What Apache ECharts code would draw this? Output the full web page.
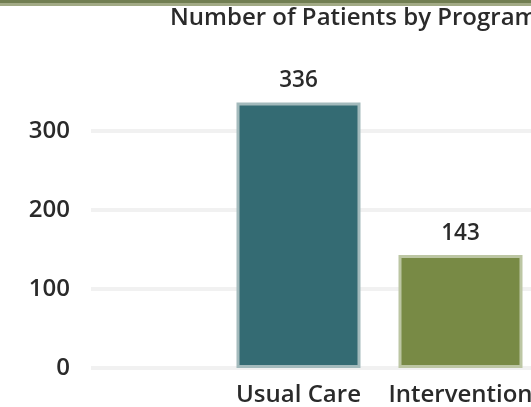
<!DOCTYPE html>
<html>
<head>
<meta charset="utf-8">
<script src="https://cdn.jsdelivr.net/npm/echarts@6/dist/echarts.min.js"></script>
<style>
  html, body { margin: 0; padding: 0; background: #fff; }
  #chart { width: 531px; height: 407px; }
</style>
</head>
<body>
<div id="chart"></div>
<script>
// data
const categories = ['Usual Care', 'Intervention']
const patients = [336, 143]
const yMax = 400
const yStep = 100

const barColors = ['#346b73', '#788a45']
const barEdges = ['#a3babc', '#bcc6a3']
const textColor = '#2a2a2a'
const font = 'Open Sans'

const chart = echarts.init(document.getElementById('chart'))

chart.setOption({
  animation: false,
  title: {
    text: 'Number of Patients by Program',
    left: 165,
    top: 1,
    textStyle: {
      fontFamily: font,
      fontSize: 24,
      fontWeight: 600,
      color: textColor
    }
  },
  graphic: [
    { type: 'rect', left: 0, top: 0, shape: { width: 531, height: 3 }, style: { fill: '#717e52' } },
    { type: 'rect', left: 0, top: 3, shape: { width: 531, height: 3 }, style: { fill: '#a2aa86' } }
  ],
  grid: [
    // bars: one category step between the two bar centres
    { left: 298.5, width: 162, top: 52, bottom: 39, outerBoundsMode: 'none' },
    // y axis + split lines
    { left: 91, right: 0, top: 52, bottom: 39, outerBoundsMode: 'none' }
  ],
  xAxis: [
    {
      type: 'category',
      gridIndex: 0,
      boundaryGap: false,
      data: categories,
      axisLine: { show: false },
      axisTick: { show: false },
      axisLabel: {
        margin: 15,
        interval: 0,
        showMinLabel: true,
        showMaxLabel: true,
        fontFamily: font,
        fontSize: 24,
        fontWeight: 600,
        color: textColor
      }
    },
    { type: 'value', gridIndex: 1, show: false }
  ],
  yAxis: [
    { type: 'value', gridIndex: 0, min: 0, max: yMax, interval: yStep, show: false },
    {
      type: 'value',
      gridIndex: 1,
      min: 0,
      max: yMax,
      interval: yStep,
      axisLine: { show: false },
      axisTick: { show: false },
      axisLabel: {
        margin: 21,
        showMaxLabel: false,
        fontFamily: font,
        fontSize: 24,
        fontWeight: 600,
        color: textColor
      },
      splitLine: {
        showMaxLine: false,
        lineStyle: { color: '#f1f1f1', width: 4 }
      }
    }
  ],
  series: [
    {
      type: 'bar',
      xAxisIndex: 0,
      yAxisIndex: 0,
      barWidth: 124,
      clip: false,
      data: patients.map((v, i) => ({
        value: v,
        itemStyle: { color: barColors[i], borderColor: barEdges[i], borderWidth: 3 }
      })),
      label: {
        show: true,
        position: 'top',
        distance: 10,
        fontFamily: font,
        fontSize: 22.5,
        fontWeight: 600,
        color: textColor
      }
    }
  ]
})
</script>
</body>
</html>
